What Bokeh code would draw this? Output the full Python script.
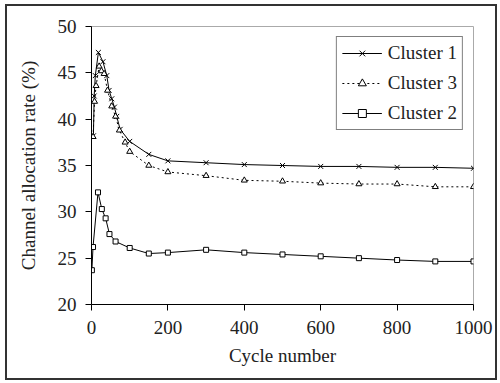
from bokeh.plotting import figure
from bokeh.models import Legend, LegendItem, FixedTicker
from bokeh.embed import file_html
from bokeh.resources import INLINE

# Channel allocation rate (%) per cluster over the cycle number
c1_x = [5, 7, 10, 18, 30, 40, 46, 53, 60, 66, 75, 100, 150, 200, 300, 400, 500, 600, 700, 800, 900, 1000]
c1_y = [38.2, 42.5, 44.7, 47.2, 46.2, 44.7, 43.1, 42.2, 41.3, 40.3, 38.9, 37.6, 36.2, 35.5, 35.3, 35.1, 35.0,
        34.9, 34.9, 34.8, 34.8, 34.7]

c3_x = [4, 8, 12, 20, 26, 33, 42, 53, 63, 73, 88, 100, 150, 200, 300, 400, 500, 600, 700, 800, 900, 1000]
c3_y = [38.1, 41.9, 43.6, 45.7, 45.2, 44.9, 43.1, 41.4, 40.3, 38.8, 37.5, 36.5, 35.0, 34.3, 33.9, 33.4, 33.3,
        33.1, 33.0, 33.0, 32.7, 32.7]

c2_x = [1, 4, 17, 27, 37, 47, 63, 100, 150, 200, 300, 400, 500, 600, 700, 800, 900, 1000]
c2_y = [23.7, 26.2, 32.1, 30.3, 29.3, 27.6, 26.8, 26.1, 25.5, 25.6, 25.9, 25.6, 25.4, 25.2, 25.0, 24.8, 24.65, 24.65]

x_ticks = [0, 200, 400, 600, 800, 1000]
y_ticks = [20, 25, 30, 35, 40, 45, 50]

FONT = "Liberation Serif"
FONT_SIZE = "19px"

p = figure(
    frame_width=382, frame_height=278,
    min_border_left=84, min_border_top=20, min_border_right=22, min_border_bottom=74,
    x_range=(0, 1000), y_range=(20, 50),
    output_backend="svg", toolbar_location=None,
    background_fill_color="white", border_fill_color="white",
)
p.styles = {"border": "2px solid #333", "margin-left": "5px", "margin-top": "4px"}

p.xgrid.visible = False
p.ygrid.visible = False
p.outline_line_color = "#aaaaaa"
p.outline_line_width = 1

for ax in (p.xaxis[0], p.yaxis[0]):
    ax.axis_line_color = "black"
    ax.major_tick_line_color = "black"
    ax.minor_tick_line_color = None
    ax.major_tick_in = 0
    ax.major_tick_out = 6
    ax.major_label_text_font = FONT
    ax.major_label_text_font_size = FONT_SIZE
    ax.major_label_text_color = "#222222"
    ax.axis_label_text_font = FONT
    ax.axis_label_text_font_size = FONT_SIZE
    ax.axis_label_text_font_style = "normal"
    ax.axis_label_text_color = "#222222"

p.xaxis.ticker = FixedTicker(ticks=x_ticks)
p.yaxis.ticker = FixedTicker(ticks=y_ticks)
p.xaxis.axis_label = "Cycle number"
p.yaxis.axis_label = "Channel allocation rate (%)"
p.xaxis.major_label_standoff = 10
p.xaxis.axis_label_standoff = 8
p.yaxis.major_label_standoff = 9
p.yaxis.axis_label_standoff = 16

l1 = p.line(c1_x, c1_y, line_color="black", line_width=1)
m1 = p.scatter(c1_x, c1_y, marker="x", size=7, line_color="black", line_width=1)

l3 = p.line(c3_x, c3_y, line_color="black", line_width=1, line_dash="2 3")
m3 = p.scatter(c3_x, c3_y, marker="triangle", size=6, line_color="black", fill_color="white", line_width=1)

l2 = p.line(c2_x, c2_y, line_color="black", line_width=1)
m2 = p.scatter(c2_x, c2_y, marker="square", size=5, line_color="black", fill_color="white", line_width=1)

legend = Legend(
    items=[
        LegendItem(label="Cluster 1", renderers=[l1, m1]),
        LegendItem(label="Cluster 3", renderers=[l3, m3]),
        LegendItem(label="Cluster 2", renderers=[l2, m2]),
    ],
    location="top_right",
    label_text_font=FONT,
    label_text_font_size=FONT_SIZE,
    label_text_color="#222222",
    glyph_width=40,
    glyph_height=20,
    label_standoff=6,
    spacing=8,
    padding=5,
    margin=10,
    border_line_color="black",
    border_line_width=1,
    background_fill_color="white",
    background_fill_alpha=1,
)
p.add_layout(legend)

open("out.html", "w").write(file_html(p, INLINE))
